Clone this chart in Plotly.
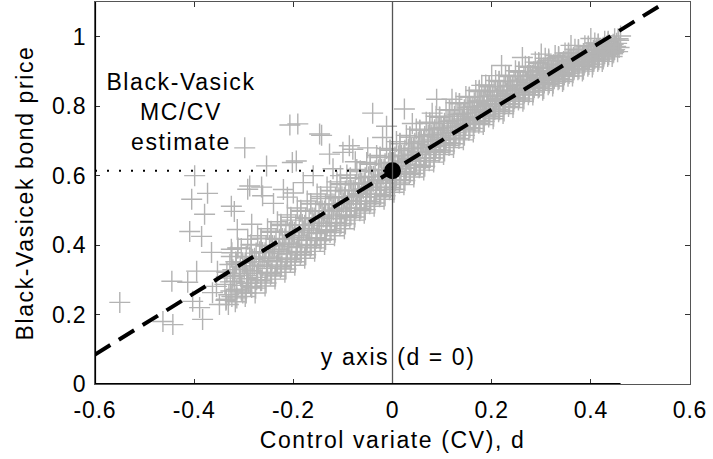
import plotly.graph_objects as go

# ---------------- data ----------------
# Monte Carlo samples in the main band: control variate d and bond price
band_d = [
    -0.336, -0.326, -0.331, -0.322, -0.338, -0.328, -0.334, -0.324, -0.330,
    -0.314, -0.305, -0.318, -0.309, -0.302, -0.316, -0.307, -0.312, -0.304,
    -0.295, -0.286, -0.292, -0.283, -0.297, -0.288, -0.294, -0.285, -0.290,
    -0.276, -0.266, -0.272, -0.263, -0.278, -0.268, -0.274, -0.265, -0.270,
    -0.255, -0.246, -0.252, -0.243, -0.257, -0.248, -0.254, -0.245, -0.250,
    -0.236, -0.226, -0.232, -0.223, -0.238, -0.228, -0.234, -0.225, -0.230,
    -0.215, -0.206, -0.212, -0.203, -0.217, -0.208, -0.214, -0.205, -0.210,
    -0.196, -0.186, -0.192, -0.183, -0.198, -0.188, -0.194, -0.185, -0.190,
    -0.175, -0.166, -0.172, -0.163, -0.177, -0.168, -0.174, -0.165, -0.170,
    -0.156, -0.146, -0.152, -0.143, -0.158, -0.148, -0.154, -0.145, -0.150,
    -0.135, -0.126, -0.132, -0.123, -0.137, -0.128, -0.134, -0.125, -0.130,
    -0.116, -0.106, -0.112, -0.103, -0.118, -0.108, -0.114, -0.105, -0.110,
    -0.095, -0.086, -0.092, -0.083, -0.097, -0.088, -0.094, -0.085, -0.090,
    -0.076, -0.066, -0.072, -0.063, -0.078, -0.068, -0.074, -0.065, -0.070,
    -0.055, -0.046, -0.052, -0.043, -0.057, -0.048, -0.054, -0.045, -0.050,
    -0.036, -0.026, -0.032, -0.023, -0.038, -0.028, -0.034, -0.025, -0.030,
    -0.015, -0.006, -0.012, -0.003, -0.017, -0.008, -0.014, -0.005, -0.010,
    0.004, 0.014, 0.008, 0.017, 0.002, 0.012, 0.006, 0.015, 0.010,
    0.025, 0.034, 0.028, 0.037, 0.023, 0.032, 0.026, 0.035, 0.030,
    0.044, 0.054, 0.048, 0.057, 0.042, 0.052, 0.046, 0.055, 0.050,
    0.065, 0.074, 0.068, 0.077, 0.063, 0.072, 0.066, 0.075, 0.070,
    0.084, 0.094, 0.088, 0.097, 0.082, 0.092, 0.086, 0.095, 0.090,
    0.105, 0.114, 0.108, 0.117, 0.103, 0.112, 0.106, 0.115, 0.110,
    0.124, 0.134, 0.128, 0.137, 0.122, 0.132, 0.126, 0.135, 0.130,
    0.145, 0.154, 0.148, 0.157, 0.143, 0.152, 0.146, 0.155, 0.150,
    0.164, 0.174, 0.168, 0.177, 0.162, 0.172, 0.166, 0.175, 0.170,
    0.185, 0.194, 0.188, 0.197, 0.183, 0.192, 0.186, 0.195, 0.190,
    0.204, 0.214, 0.208, 0.217, 0.202, 0.212, 0.206, 0.215, 0.210,
    0.225, 0.234, 0.228, 0.237, 0.223, 0.232, 0.226, 0.235, 0.230,
    0.244, 0.254, 0.248, 0.257, 0.242, 0.252, 0.246, 0.255, 0.250,
    0.265, 0.274, 0.268, 0.277, 0.263, 0.272, 0.266, 0.275, 0.270,
    0.284, 0.294, 0.288, 0.297, 0.282, 0.292, 0.286, 0.295, 0.290,
    0.305, 0.314, 0.308, 0.317, 0.303, 0.312, 0.306, 0.315, 0.310,
    0.324, 0.334, 0.328, 0.337, 0.322, 0.332, 0.326, 0.335, 0.330,
    0.345, 0.354, 0.348, 0.357, 0.343, 0.352, 0.346, 0.355, 0.350,
    0.364, 0.374, 0.368, 0.377, 0.362, 0.372, 0.366, 0.375, 0.370,
    0.385, 0.394, 0.388, 0.397, 0.383, 0.392, 0.386, 0.395, 0.390,
    0.404, 0.414, 0.408, 0.417, 0.402, 0.412, 0.406, 0.415, 0.410,
    0.425, 0.434, 0.428, 0.437, 0.423, 0.432, 0.426, 0.435, 0.430,
    0.444, 0.454, 0.448, 0.457, 0.442, 0.452, 0.446, 0.455, 0.450,
    -0.317, -0.324, -0.314, -0.327, -0.319, -0.322, -0.315, -0.325, -0.312,
    -0.297, -0.304, -0.294, -0.307, -0.299, -0.302, -0.295, -0.305, -0.292,
    -0.277, -0.284, -0.274, -0.287, -0.279, -0.282, -0.275, -0.285, -0.272,
    -0.257, -0.264, -0.254, -0.267, -0.259, -0.262, -0.255, -0.265, -0.252,
    -0.237, -0.244, -0.234, -0.247, -0.239, -0.242, -0.235, -0.245, -0.232,
    -0.217, -0.224, -0.214, -0.227, -0.219, -0.222, -0.215, -0.225, -0.212,
    -0.197, -0.204, -0.194, -0.207, -0.199, -0.202, -0.195, -0.205, -0.192,
    -0.177, -0.184, -0.174, -0.187, -0.179, -0.182, -0.175, -0.185, -0.172,
    -0.157, -0.164, -0.154, -0.167, -0.159, -0.162, -0.155, -0.165, -0.152,
    -0.137, -0.144, -0.134, -0.147, -0.139, -0.142, -0.135, -0.145, -0.132,
    -0.117, -0.124, -0.114, -0.127, -0.119, -0.122, -0.115, -0.125, -0.112,
    -0.097, -0.104, -0.094, -0.107, -0.099, -0.102, -0.095, -0.105, -0.092,
    -0.077, -0.084, -0.074, -0.087, -0.079, -0.082, -0.075, -0.085, -0.072,
    -0.057, -0.064, -0.054, -0.067, -0.059, -0.062, -0.055, -0.065, -0.052,
    -0.037, -0.044, -0.034, -0.047, -0.039, -0.042, -0.035, -0.045, -0.032,
    -0.017, -0.024, -0.014, -0.027, -0.019, -0.022, -0.015, -0.025, -0.012,
    0.003, -0.004, 0.006, -0.007, 0.001, -0.002, 0.005, -0.005, 0.008,
    0.023, 0.016, 0.026, 0.013, 0.021, 0.018, 0.025, 0.015, 0.028,
    0.043, 0.036, 0.046, 0.033, 0.041, 0.038, 0.045, 0.035, 0.048,
    0.063, 0.056, 0.066, 0.053, 0.061, 0.058, 0.065, 0.055, 0.068,
    0.083, 0.076, 0.086, 0.073, 0.081, 0.078, 0.085, 0.075, 0.088,
    0.103, 0.096, 0.106, 0.093, 0.101, 0.098, 0.105, 0.095, 0.108,
    0.123, 0.116, 0.126, 0.113, 0.121, 0.118, 0.125, 0.115, 0.128,
    0.143, 0.136, 0.146, 0.133, 0.141, 0.138, 0.145, 0.135, 0.148,
    0.163, 0.156, 0.166, 0.153, 0.161, 0.158, 0.165, 0.155, 0.168,
    0.183, 0.176, 0.186, 0.173, 0.181, 0.178, 0.185, 0.175, 0.188,
    0.203, 0.196, 0.206, 0.193, 0.201, 0.198, 0.205, 0.195, 0.208,
    0.223, 0.216, 0.226, 0.213, 0.221, 0.218, 0.225, 0.215, 0.228,
    0.243, 0.236, 0.246, 0.233, 0.241, 0.238, 0.245, 0.235, 0.248,
    0.263, 0.256, 0.266, 0.253, 0.261, 0.258, 0.265, 0.255, 0.268,
    0.283, 0.276, 0.286, 0.273, 0.281, 0.278, 0.285, 0.275, 0.288,
    0.303, 0.296, 0.306, 0.293, 0.301, 0.298, 0.305, 0.295, 0.308,
    0.323, 0.316, 0.326, 0.313, 0.321, 0.318, 0.325, 0.315, 0.328,
    0.343, 0.336, 0.346, 0.333, 0.341, 0.338, 0.345, 0.335, 0.348,
    0.363, 0.356, 0.366, 0.353, 0.361, 0.358, 0.365, 0.355, 0.368,
    0.383, 0.376, 0.386, 0.373, 0.381, 0.378, 0.385, 0.375, 0.388,
    0.403, 0.396, 0.406, 0.393, 0.401, 0.398, 0.405, 0.395, 0.408,
    0.423, 0.416, 0.426, 0.413, 0.421, 0.418, 0.425, 0.415, 0.428,
    0.443, 0.436, 0.446, 0.433, 0.441, 0.438, 0.445, 0.435, 0.448,
]
band_price = [
    0.241, 0.268, 0.229, 0.305, 0.287, 0.344, 0.322, 0.378, 0.257,
    0.248, 0.271, 0.296, 0.318, 0.262, 0.352, 0.337, 0.391, 0.284,
    0.262, 0.281, 0.303, 0.327, 0.349, 0.366, 0.312, 0.402, 0.291,
    0.276, 0.297, 0.318, 0.339, 0.362, 0.381, 0.307, 0.418, 0.352,
    0.291, 0.314, 0.333, 0.356, 0.378, 0.399, 0.322, 0.437, 0.366,
    0.311, 0.334, 0.352, 0.376, 0.398, 0.417, 0.343, 0.456, 0.388,
    0.331, 0.352, 0.374, 0.396, 0.418, 0.437, 0.363, 0.472, 0.406,
    0.352, 0.371, 0.393, 0.416, 0.437, 0.458, 0.382, 0.497, 0.427,
    0.372, 0.393, 0.414, 0.436, 0.457, 0.476, 0.402, 0.518, 0.447,
    0.392, 0.413, 0.433, 0.456, 0.478, 0.497, 0.421, 0.534, 0.466,
    0.416, 0.436, 0.455, 0.477, 0.498, 0.517, 0.444, 0.556, 0.487,
    0.437, 0.456, 0.476, 0.497, 0.518, 0.536, 0.465, 0.574, 0.507,
    0.461, 0.479, 0.498, 0.519, 0.538, 0.557, 0.487, 0.592, 0.528,
    0.481, 0.499, 0.518, 0.539, 0.558, 0.576, 0.507, 0.612, 0.548,
    0.502, 0.519, 0.538, 0.558, 0.579, 0.597, 0.527, 0.633, 0.567,
    0.521, 0.539, 0.558, 0.578, 0.598, 0.617, 0.547, 0.652, 0.588,
    0.542, 0.559, 0.578, 0.599, 0.618, 0.636, 0.567, 0.673, 0.608,
    0.561, 0.579, 0.598, 0.619, 0.638, 0.657, 0.588, 0.692, 0.628,
    0.586, 0.603, 0.621, 0.641, 0.659, 0.677, 0.612, 0.711, 0.650,
    0.606, 0.623, 0.641, 0.661, 0.679, 0.697, 0.632, 0.731, 0.670,
    0.627, 0.643, 0.661, 0.681, 0.699, 0.717, 0.652, 0.752, 0.690,
    0.651, 0.667, 0.684, 0.702, 0.719, 0.736, 0.675, 0.768, 0.711,
    0.671, 0.687, 0.704, 0.722, 0.739, 0.756, 0.695, 0.789, 0.731,
    0.692, 0.707, 0.724, 0.742, 0.759, 0.776, 0.716, 0.808, 0.751,
    0.716, 0.731, 0.747, 0.763, 0.779, 0.795, 0.739, 0.826, 0.771,
    0.736, 0.751, 0.767, 0.783, 0.799, 0.815, 0.759, 0.846, 0.791,
    0.756, 0.769, 0.784, 0.799, 0.814, 0.829, 0.777, 0.857, 0.807,
    0.771, 0.784, 0.799, 0.814, 0.829, 0.844, 0.792, 0.872, 0.822,
    0.786, 0.799, 0.814, 0.829, 0.844, 0.859, 0.807, 0.887, 0.837,
    0.806, 0.818, 0.832, 0.846, 0.859, 0.873, 0.825, 0.899, 0.852,
    0.821, 0.833, 0.847, 0.861, 0.874, 0.888, 0.840, 0.914, 0.867,
    0.841, 0.852, 0.864, 0.877, 0.889, 0.902, 0.858, 0.926, 0.883,
    0.851, 0.862, 0.874, 0.887, 0.899, 0.912, 0.868, 0.936, 0.893,
    0.866, 0.876, 0.887, 0.898, 0.909, 0.921, 0.881, 0.943, 0.903,
    0.876, 0.886, 0.897, 0.908, 0.919, 0.931, 0.891, 0.953, 0.913,
    0.896, 0.905, 0.915, 0.925, 0.934, 0.944, 0.909, 0.963, 0.929,
    0.906, 0.915, 0.925, 0.935, 0.944, 0.954, 0.919, 0.973, 0.939,
    0.921, 0.929, 0.937, 0.946, 0.954, 0.963, 0.933, 0.979, 0.950,
    0.936, 0.943, 0.951, 0.958, 0.965, 0.973, 0.947, 0.987, 0.961,
    0.951, 0.957, 0.963, 0.969, 0.975, 0.981, 0.960, 0.994, 0.972,
    0.237, 0.252, 0.273, 0.294, 0.311, 0.329, 0.346, 0.367, 0.392,
    0.252, 0.268, 0.290, 0.313, 0.331, 0.349, 0.367, 0.390, 0.417,
    0.262, 0.278, 0.300, 0.323, 0.341, 0.359, 0.377, 0.400, 0.427,
    0.282, 0.298, 0.320, 0.343, 0.361, 0.379, 0.397, 0.420, 0.447,
    0.302, 0.318, 0.340, 0.363, 0.381, 0.399, 0.417, 0.440, 0.467,
    0.322, 0.338, 0.360, 0.383, 0.401, 0.419, 0.437, 0.460, 0.487,
    0.342, 0.358, 0.380, 0.403, 0.421, 0.439, 0.457, 0.480, 0.507,
    0.362, 0.378, 0.400, 0.423, 0.441, 0.459, 0.477, 0.500, 0.527,
    0.382, 0.398, 0.420, 0.443, 0.461, 0.479, 0.497, 0.520, 0.547,
    0.402, 0.418, 0.440, 0.463, 0.481, 0.499, 0.517, 0.540, 0.567,
    0.427, 0.442, 0.463, 0.484, 0.501, 0.519, 0.536, 0.557, 0.582,
    0.447, 0.462, 0.483, 0.504, 0.521, 0.539, 0.556, 0.577, 0.602,
    0.472, 0.486, 0.506, 0.526, 0.542, 0.558, 0.574, 0.594, 0.618,
    0.492, 0.506, 0.526, 0.546, 0.562, 0.578, 0.594, 0.614, 0.638,
    0.512, 0.526, 0.546, 0.566, 0.582, 0.598, 0.614, 0.634, 0.658,
    0.532, 0.546, 0.566, 0.586, 0.602, 0.618, 0.634, 0.654, 0.678,
    0.552, 0.566, 0.586, 0.606, 0.622, 0.638, 0.654, 0.674, 0.698,
    0.574, 0.588, 0.607, 0.627, 0.642, 0.658, 0.673, 0.693, 0.716,
    0.596, 0.610, 0.629, 0.647, 0.662, 0.678, 0.693, 0.711, 0.734,
    0.616, 0.630, 0.649, 0.667, 0.682, 0.698, 0.713, 0.731, 0.754,
    0.639, 0.652, 0.670, 0.688, 0.703, 0.717, 0.732, 0.750, 0.771,
    0.661, 0.674, 0.691, 0.709, 0.723, 0.737, 0.751, 0.769, 0.790,
    0.681, 0.694, 0.711, 0.729, 0.743, 0.757, 0.771, 0.789, 0.810,
    0.703, 0.716, 0.733, 0.750, 0.763, 0.777, 0.790, 0.807, 0.828,
    0.726, 0.738, 0.754, 0.770, 0.783, 0.797, 0.810, 0.826, 0.845,
    0.747, 0.758, 0.774, 0.789, 0.802, 0.814, 0.827, 0.842, 0.861,
    0.764, 0.775, 0.790, 0.805, 0.817, 0.829, 0.841, 0.856, 0.874,
    0.779, 0.790, 0.805, 0.820, 0.832, 0.844, 0.856, 0.871, 0.889,
    0.796, 0.807, 0.821, 0.836, 0.847, 0.859, 0.870, 0.885, 0.902,
    0.814, 0.824, 0.838, 0.851, 0.862, 0.874, 0.885, 0.898, 0.915,
    0.832, 0.841, 0.854, 0.867, 0.878, 0.888, 0.899, 0.912, 0.927,
    0.846, 0.855, 0.867, 0.880, 0.890, 0.900, 0.910, 0.923, 0.938,
    0.858, 0.867, 0.879, 0.891, 0.900, 0.910, 0.919, 0.931, 0.946,
    0.871, 0.879, 0.890, 0.901, 0.910, 0.920, 0.929, 0.940, 0.953,
    0.887, 0.894, 0.905, 0.915, 0.924, 0.932, 0.941, 0.951, 0.964,
    0.901, 0.908, 0.918, 0.928, 0.936, 0.944, 0.952, 0.962, 0.974,
    0.913, 0.920, 0.929, 0.939, 0.946, 0.954, 0.961, 0.971, 0.982,
    0.929, 0.934, 0.942, 0.950, 0.957, 0.963, 0.970, 0.978, 0.987,
    0.943, 0.948, 0.955, 0.962, 0.967, 0.973, 0.978, 0.985, 0.994,
]

# scattered samples away from the main band
outlier_d = [
    -0.298, -0.254, -0.399, -0.405, -0.373, -0.325, -0.292, -0.264, -0.319, -0.379,
    -0.212, -0.409, -0.385, -0.365, -0.395, -0.445, -0.550, -0.413, -0.353, -0.325,
    -0.313, -0.284, -0.463, -0.443, -0.389, -0.383, -0.403, -0.335, -0.349, -0.191,
    -0.143, -0.040, 0.024, -0.194, -0.127, -0.012, 0.089, 0.262, 0.220, 0.200,
    -0.207, -0.147, -0.202, -0.100, -0.087, -0.262, -0.080, -0.363, -0.355, -0.319,
    -0.288, 0.460, 0.456, -0.220, -0.180, -0.160, -0.120, -0.075, -0.050, -0.020,
    -0.240, -0.200, -0.105, 0.040, 0.080, 0.120, 0.180, 0.300, 0.360, 0.400,
]
outlier_price = [
    0.680, 0.628, 0.600, 0.532, 0.549, 0.512, 0.561, 0.567, 0.497, 0.489,
    0.538, 0.439, 0.425, 0.379, 0.325, 0.296, 0.235, 0.293, 0.325, 0.388,
    0.445, 0.460, 0.180, 0.171, 0.220, 0.186, 0.238, 0.244, 0.229, 0.749,
    0.716, 0.780, 0.792, 0.642, 0.662, 0.742, 0.820, 0.940, 0.917, 0.888,
    0.746, 0.720, 0.638, 0.667, 0.686, 0.542, 0.676, 0.263, 0.281, 0.310,
    0.570, 1.002, 0.990, 0.560, 0.580, 0.600, 0.620, 0.640, 0.680, 0.710,
    0.520, 0.550, 0.600, 0.750, 0.780, 0.820, 0.860, 0.950, 0.975, 0.995,
]

# fitted regression line through the samples (dashed)
fit_d = [-0.60, 0.54]
fit_price = [0.085, 1.090]

# MC/CV estimate: price at d = 0
estimate_d = [0.0]
estimate_price = [0.614]

x_ticks = [-0.6, -0.4, -0.2, 0, 0.2, 0.4, 0.6]
x_tick_labels = ["-0.6", "-0.4", "-0.2", "0", "0.2", "0.4", "0.6"]
y_ticks = [0, 0.2, 0.4, 0.6, 0.8, 1.0]
y_tick_labels = ["0", "0.2", "0.4", "0.6", "0.8", "1"]

X_RANGE = [-0.6, 0.6]
Y_RANGE = [0, 1.1]

FONT = "Liberation Sans, Arial, Helvetica, sans-serif"
FS = 23
GRAY = "#b3b3b3"

cv_d = band_d + outlier_d
bond_price = band_price + outlier_price

fig = go.Figure()

# samples
fig.add_trace(go.Scatter(
    x=cv_d, y=bond_price, mode="markers",
    marker=dict(symbol="cross-thin", size=15, color=GRAY,
                line=dict(color=GRAY, width=1.4)),
    hoverinfo="skip", showlegend=False,
))

# dotted line from the left edge to the estimate
fig.add_trace(go.Scatter(
    x=[X_RANGE[0], estimate_d[0]], y=[estimate_price[0], estimate_price[0]],
    mode="lines", line=dict(color="black", width=2.2, dash="2px,10px"),
    hoverinfo="skip", showlegend=False,
))

# dashed regression line
fig.add_trace(go.Scatter(
    x=fit_d, y=fit_price, mode="lines",
    line=dict(color="black", width=4, dash="18px,10px"),
    hoverinfo="skip", showlegend=False,
))

# estimate marker
fig.add_trace(go.Scatter(
    x=estimate_d, y=estimate_price, mode="markers",
    marker=dict(symbol="circle", size=17, color="black"),
    hoverinfo="skip", showlegend=False,
))

# y axis at d = 0
fig.add_vline(x=0, line=dict(color="#555555", width=1.3), layer="above")

# heavy left axis and heavy x-axis segment (as in the original)
fig.add_shape(type="line", xref="x", yref="paper", x0=X_RANGE[0], x1=X_RANGE[0],
              y0=0, y1=1, line=dict(color="black", width=2.2), layer="above")
fig.add_shape(type="line", xref="x", yref="y", x0=X_RANGE[0], x1=max(cv_d),
              y0=0, y1=0, line=dict(color="black", width=2.2), layer="above")

fig.add_annotation(x=-0.4256, y=0.783, xref="x", yref="y",
                   text="Black-Vasick<br>MC/CV<br>estimate", showarrow=False,
                   font=dict(family=FONT, size=FS, color="black"), align="center")
fig.add_annotation(x=0.011, y=0.079, xref="x", yref="y",
                   text="y axis (d = 0)", showarrow=False,
                   font=dict(family=FONT, size=FS, color="black"))

axis_common = dict(
    showgrid=False, zeroline=False, showline=True, linecolor="#555555", linewidth=1,
    mirror="ticks", ticks="inside", ticklen=5, tickcolor="#333333", tickwidth=1,
    tickfont=dict(family=FONT, size=FS, color="black"),
)

fig.update_xaxes(range=X_RANGE, tickvals=x_ticks, ticktext=x_tick_labels,
                 ticklabelstandoff=5,
                 title=dict(text="Control variate (CV), d",
                            font=dict(family=FONT, size=FS, color="black"), standoff=10),
                 **axis_common)
fig.update_yaxes(range=Y_RANGE, tickvals=y_ticks, ticktext=y_tick_labels,
                 ticklabelstandoff=3,
                 title=dict(text="Black-Vasicek bond price",
                            font=dict(family=FONT, size=FS, color="black"), standoff=14),
                 **axis_common)

fig.update_layout(
    width=713, height=459,
    margin=dict(l=95, r=23, t=2, b=75),
    plot_bgcolor="white", paper_bgcolor="white",
    font=dict(family=FONT, size=FS, color="black"),
    showlegend=False,
)

# page without the browser's default body margin; the original's text is
# set a little wider (letter-spaced) than Arial
post = """
document.documentElement.style.margin='0';
document.body.style.margin='0';
document.body.style.padding='0';
document.body.style.overflow='hidden';
var gd = document.getElementById('{plot_id}');
function widen(){
  gd.querySelectorAll('text').forEach(function(t){ t.style.letterSpacing='1.6px'; });
  gd.querySelectorAll('g.xtick text, g.ytick text').forEach(function(t){ t.style.letterSpacing='0.8px'; });
}
widen();
if (gd.on) { gd.on('plotly_afterplot', widen); }
"""

fig.write_html("out.html", post_script=post, config={"displayModeBar": False})
